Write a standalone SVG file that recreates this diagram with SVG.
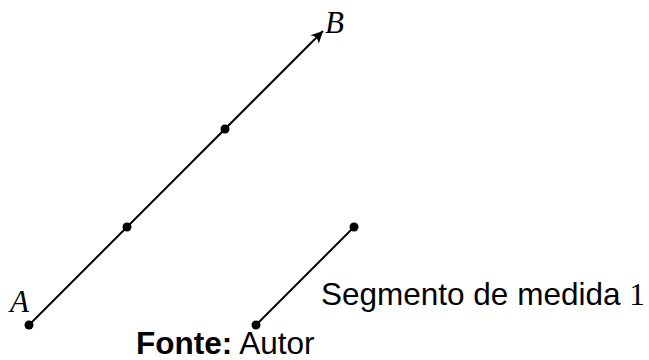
<svg xmlns="http://www.w3.org/2000/svg" width="649" height="360" viewBox="0 0 649 360">
  <style>
    .ln { stroke: #000; stroke-width: 2; fill: none; }
    .dot { fill: #000; }
    .math { font-family: "Liberation Serif", "DejaVu Serif", serif; font-style: italic; font-size: 31px; fill: #000; }
    .sans { font-family: "Liberation Sans", Arial, sans-serif; font-size: 31.5px; fill: #000; }
  </style>
  <defs>
    <marker id="arr" markerUnits="userSpaceOnUse" markerWidth="16" markerHeight="14" viewBox="-13 -7 16 14" refX="0" refY="0" orient="auto">
      <path d="M0,0 L-12,-6 Q-7,0 -12,6 Z" fill="#000"/>
    </marker>
  </defs>
  <rect width="649" height="360" fill="#fff"/>
  <g id="connectors">
    <line class="ln" x1="29" y1="325" x2="323" y2="31" marker-end="url(#arr)"/>
    <line class="ln" x1="256" y1="325" x2="354" y2="227"/>
  </g>
  <g id="A">
    <circle class="dot" cx="29" cy="325" r="4.5"/>
    <text class="math" x="10" y="312">A</text>
  </g>
  <g id="P1">
    <circle class="dot" cx="127" cy="227" r="4.5"/>
  </g>
  <g id="P2">
    <circle class="dot" cx="225" cy="129" r="4.5"/>
  </g>
  <g id="B">
    <text class="math" x="325" y="33">B</text>
  </g>
  <g id="segment">
    <circle class="dot" cx="256" cy="325" r="4.5"/>
    <circle class="dot" cx="354" cy="227" r="4.5"/>
  </g>
  <g id="label">
    <text class="sans" x="321" y="305">Segmento de medida <tspan font-family="Liberation Serif, serif">1</tspan></text>
  </g>
  <g id="source">
    <text class="sans" x="136" y="354"><tspan font-weight="bold">Fonte:</tspan> Autor</text>
  </g>
</svg>
